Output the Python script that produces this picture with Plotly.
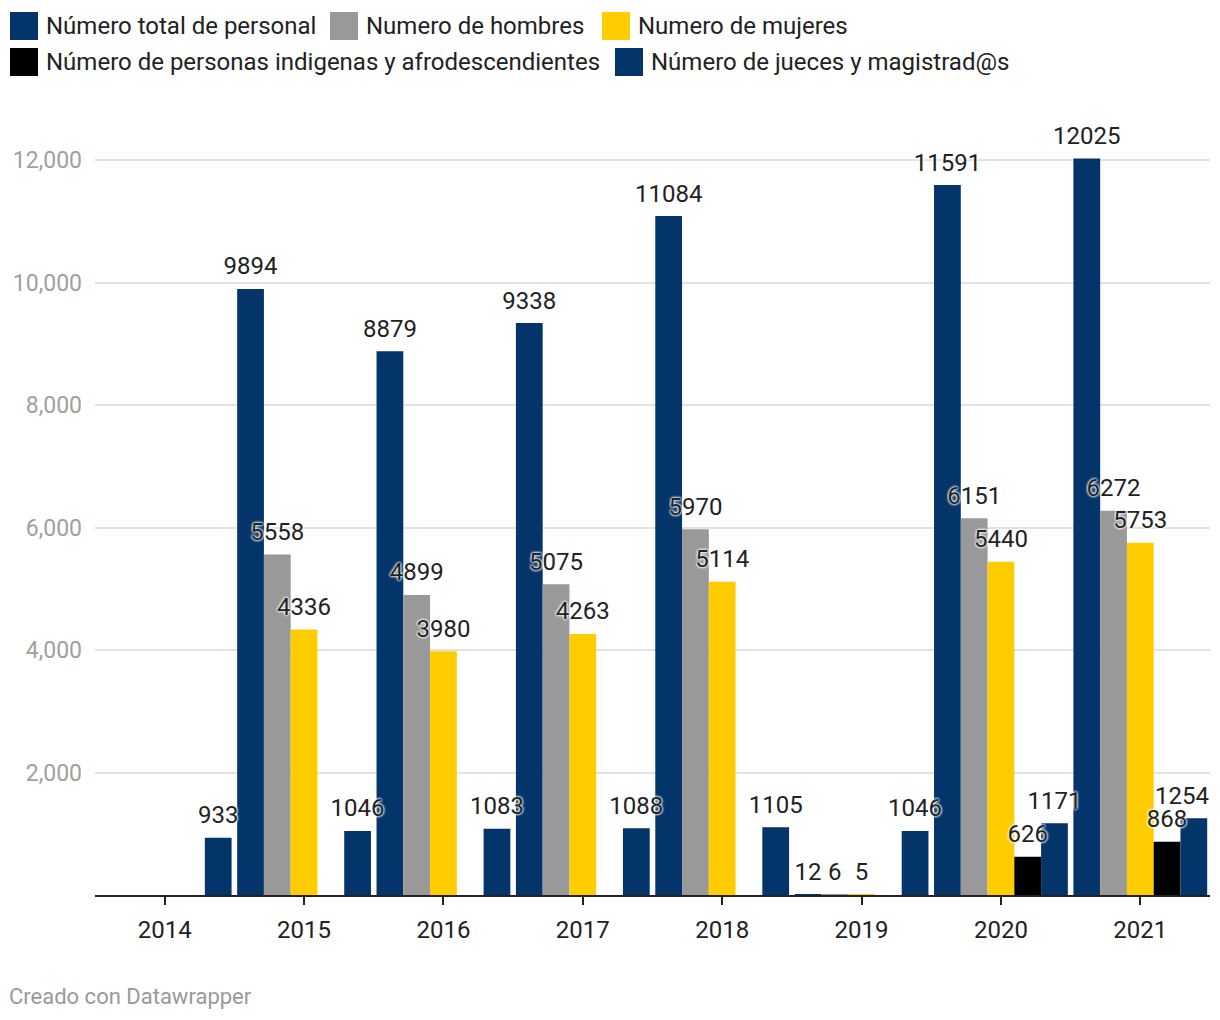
import plotly.graph_objects as go

# ---- data ----
years = ["2014", "2015", "2016", "2017", "2018", "2019", "2020", "2021"]
series_names = [
    "Número total de personal",
    "Numero de hombres",
    "Numero de mujeres",
    "Número de personas indigenas y afrodescendientes",
    "Número de jueces y magistrad@s",
]
total_personal = [None, 9894, 8879, 9338, 11084, 12, 11591, 12025]
hombres = [None, 5558, 4899, 5075, 5970, 6, 6151, 6272]
mujeres = [None, 4336, 3980, 4263, 5114, 5, 5440, 5753]
indigenas = [None, None, None, None, None, None, 626, 868]
jueces = [933, 1046, 1083, 1088, 1105, 1046, 1171, 1254]
y_tickvals = [2000, 4000, 6000, 8000, 10000, 12000]
y_ticktext = ["2,000", "4,000", "6,000", "8,000", "10,000", "12,000"]

series_values = [total_personal, hombres, mujeres, indigenas, jueces]
colors = ["#03356a", "#999999", "#ffcc00", "#000000", "#03356a"]

FONT = "Roboto"
halo = "0 0 3px #fff, 0 0 3px #fff, 0 0 2px #fff"
PX_PER_UNIT = 0.06125          # vertical scale of the plot area
LABEL_GAP = 5.5 / PX_PER_UNIT  # extra space between a bar top and its label

fig = go.Figure()
for i, (name, vals, col) in enumerate(zip(series_names, series_values, colors)):
    fig.add_trace(go.Bar(
        x=years, y=vals, name=name, offsetgroup=str(i),
        marker=dict(color=col, line=dict(width=0)),
        showlegend=False, hoverinfo="skip",
    ))
for i, vals in enumerate(series_values):
    labels = []
    for j, v in enumerate(vals):
        if v is None:
            labels.append("")
        elif i == len(series_values) - 1 and j == len(vals) - 1:
            labels.append(str(v) + "\u00a0" * 4)   # keep last label inside chart
        else:
            labels.append(str(v))
    fig.add_trace(go.Bar(
        x=years, y=[None if v is None else LABEL_GAP for v in vals],
        base=vals, offsetgroup=str(i),
        marker=dict(color="rgba(0,0,0,0)", line=dict(width=0)),
        text=labels, textposition="outside", constraintext="none",
        cliponaxis=False,
        textfont=dict(family=FONT, size=24, color="#222222", shadow=halo),
        showlegend=False, hoverinfo="skip",
    ))

# ---- custom legend (swatches + labels) ----
W_PLOT, H_PLOT, L, B_Y = 1115, 780, 95, 895
legend_rows = [
    [(0, 10), (1, 330), (2, 602)],
    [(3, 10), (4, 615)],
]
row_tops = [12, 48]
for row, top in zip(legend_rows, row_tops):
    for idx, xpx in row:
        fig.add_shape(type="rect", xref="paper", yref="paper",
                      x0=(xpx - L) / W_PLOT, x1=(xpx + 28 - L) / W_PLOT,
                      y0=(B_Y - (top + 28)) / H_PLOT, y1=(B_Y - top) / H_PLOT,
                      fillcolor=colors[idx], line=dict(width=0), layer="above")
        fig.add_annotation(xref="paper", yref="paper",
                           x=(xpx + 34 - L) / W_PLOT, y=(B_Y - (top + 14)) / H_PLOT,
                           xanchor="left", yanchor="middle", showarrow=False,
                           text=series_names[idx],
                           font=dict(family=FONT, size=24, color="#222222"))

fig.add_annotation(xref="paper", yref="paper",
                   x=(7 - L) / W_PLOT, y=(B_Y - 996) / H_PLOT,
                   xanchor="left", yanchor="middle", showarrow=False,
                   text="Creado con Datawrapper",
                   font=dict(family=FONT, size=22, color="#999999"))

fig.update_layout(
    width=1220, height=1020,
    margin=dict(l=95, r=10, t=115, b=125),
    paper_bgcolor="white", plot_bgcolor="white",
    barmode="group", bargap=0.04, bargroupgap=0,
    font=dict(family=FONT, size=24, color="#222222"),
    showlegend=False,
    xaxis=dict(
        type="category", range=[-0.5, 7.5],
        showline=True, linecolor="#222222", linewidth=2,
        ticks="outside", ticklen=8, tickwidth=2, tickcolor="#222222",
        tickfont=dict(family=FONT, size=24, color="#222222"),
        ticklabelstandoff=4,
        showgrid=False, zeroline=False, fixedrange=True,
    ),
    yaxis=dict(
        range=[0, 780 / PX_PER_UNIT],
        tickvals=y_tickvals, ticktext=y_ticktext,
        showgrid=True, gridcolor="#e2e2e2", gridwidth=2,
        zeroline=False, showline=False, ticks="",
        tickfont=dict(family=FONT, size=23, color="#a0a0a0"),
        ticklabelstandoff=12, fixedrange=True,
    ),
)

fig.write_html("out.html", config={"displayModeBar": False},
               post_script="document.body.style.margin='0';")
